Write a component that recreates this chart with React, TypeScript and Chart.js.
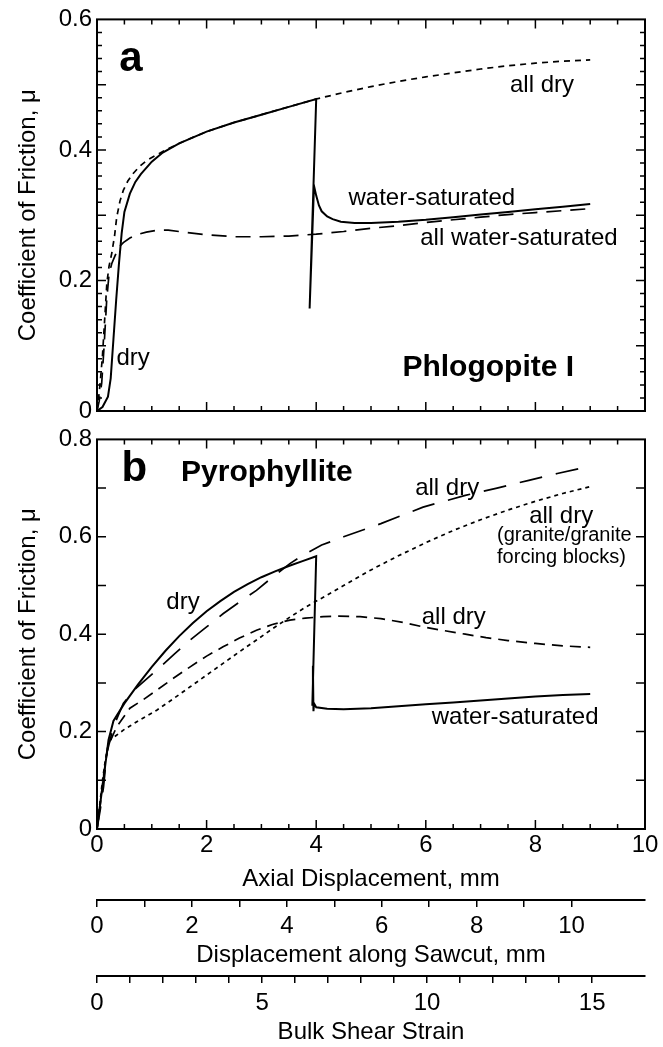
import React, { useEffect, useRef } from "react";
import { Chart, registerables } from "chart.js";
Chart.register(...registerables);

const FONT_FAMILY = "'Liberation Sans', Arial, Helvetica, sans-serif";

// ---------- axes ----------
const X_MIN = 0;
const X_MAX = 10;
const X_LABEL_STEP = 2;
const X_MINOR_STEP = 0.5;
const SAWCUT_MAX = 10 / Math.cos(Math.PI / 6); // displacement along sawcut at 10 mm axial
const STRAIN_MAX = 16.6; // bulk shear strain at 10 mm axial

// ---------- panel a : Phlogopite I ----------
const A_Y_MAX = 0.6;
// dry -> water-saturated (solid)
const A_SOLID_X = [0, 0.1, 0.2, 0.25, 0.3, 0.35, 0.4, 0.45, 0.5, 0.6, 0.7, 0.8, 1.0, 1.2, 1.5, 2.0, 2.5, 3.0, 3.5, 4.0, 3.88, 3.92, 3.96, 4.0, 4.05, 4.1, 4.2, 4.3, 4.45, 4.7, 5.0, 5.5, 6.0, 6.5, 7.0, 7.5, 8.0, 8.5, 9.0];
const A_SOLID_Y = [0, 0.006, 0.022, 0.05, 0.11, 0.17, 0.225, 0.272, 0.305, 0.333, 0.351, 0.363, 0.382, 0.396, 0.41, 0.428, 0.442, 0.454, 0.466, 0.478, 0.157, 0.25, 0.345, 0.33, 0.315, 0.306, 0.298, 0.294, 0.29, 0.288, 0.288, 0.29, 0.293, 0.297, 0.301, 0.305, 0.309, 0.313, 0.317];
// all dry (short dash)
const A_DRY_X = [0, 0.03, 0.06, 0.1, 0.14, 0.18, 0.22, 0.27, 0.32, 0.36, 0.42, 0.48, 0.56, 0.66, 0.78, 0.91, 1.1, 1.3, 1.6, 2.0, 2.5, 3.0, 3.5, 4.0, 4.5, 5.0, 5.5, 6.0, 6.5, 7.0, 7.5, 8.0, 8.5, 9.0];
const A_DRY_Y = [0, 0.02, 0.045, 0.085, 0.14, 0.196, 0.222, 0.242, 0.268, 0.297, 0.322, 0.338, 0.352, 0.364, 0.375, 0.384, 0.393, 0.402, 0.414, 0.428, 0.442, 0.454, 0.466, 0.478, 0.488, 0.497, 0.505, 0.512, 0.518, 0.524, 0.529, 0.533, 0.536, 0.538];
// all water-saturated (long dash)
const A_WET_X = [0, 0.04, 0.086, 0.13, 0.177, 0.22, 0.27, 0.33, 0.39, 0.48, 0.6, 0.72, 0.9, 1.1, 1.3, 1.6, 2.0, 2.5, 3.0, 3.5, 4.0, 4.5, 5.0, 5.5, 6.0, 6.5, 7.0, 7.5, 8.0, 8.5, 9.0];
const A_WET_Y = [0, 0.015, 0.043, 0.1, 0.17, 0.21, 0.226, 0.238, 0.25, 0.258, 0.265, 0.27, 0.274, 0.277, 0.277, 0.274, 0.27, 0.267, 0.267, 0.268, 0.271, 0.275, 0.28, 0.284, 0.289, 0.293, 0.297, 0.301, 0.304, 0.307, 0.31];

// ---------- panel b : Pyrophyllite ----------
const B_Y_MAX = 0.8;
// dry -> water-saturated (solid)
const B_SOLID_X = [0, 0.05, 0.115, 0.21, 0.3, 0.5, 0.75, 1.0, 1.25, 1.5, 1.75, 2.0, 2.25, 2.5, 2.75, 3.0, 3.25, 3.5, 3.75, 4.0, 3.93, 3.94, 3.95, 3.96, 4.0, 4.2, 4.5, 5.0, 5.5, 6.0, 6.5, 7.0, 7.5, 8.0, 8.5, 9.0];
const B_SOLID_Y = [0, 0.045, 0.1, 0.183, 0.222, 0.258, 0.297, 0.333, 0.366, 0.396, 0.423, 0.447, 0.468, 0.487, 0.503, 0.517, 0.529, 0.54, 0.55, 0.56, 0.255, 0.335, 0.242, 0.258, 0.25, 0.247, 0.246, 0.248, 0.252, 0.256, 0.26, 0.264, 0.268, 0.272, 0.275, 0.277];
// all dry (long dash, upper)
const B_DRY1_X = [0, 0.06, 0.12, 0.18, 0.3, 0.48, 0.7, 1.09, 1.4, 1.7, 2.0, 2.3, 2.6, 2.91, 3.2, 3.52, 3.8, 4.1, 4.5, 5.18, 5.95, 6.72, 7.3, 7.88, 8.4, 9.0];
const B_DRY1_Y = [0, 0.04, 0.087, 0.156, 0.21, 0.258, 0.288, 0.326, 0.358, 0.388, 0.415, 0.442, 0.466, 0.49, 0.517, 0.545, 0.565, 0.583, 0.6, 0.627, 0.661, 0.685, 0.7, 0.716, 0.73, 0.745];
// all dry (medium dash, peaks then falls)
const B_DRY2_X = [0, 0.06, 0.12, 0.2, 0.36, 0.6, 0.85, 1.09, 1.4, 1.7, 2.0, 2.3, 2.6, 2.91, 3.2, 3.52, 3.8, 4.13, 4.41, 4.8, 5.18, 5.6, 5.95, 6.3, 6.72, 7.1, 7.5, 8.0, 8.5, 9.0];
const B_DRY2_Y = [0, 0.05, 0.11, 0.17, 0.21, 0.248, 0.266, 0.285, 0.31, 0.333, 0.355, 0.374, 0.392, 0.408, 0.42, 0.429, 0.433, 0.436, 0.437, 0.436, 0.432, 0.424, 0.415, 0.408, 0.4, 0.393, 0.387, 0.381, 0.376, 0.373];
// all dry, granite/granite forcing blocks (dotted)
const B_DRY3_X = [0, 0.05, 0.1, 0.15, 0.2, 0.24, 0.35, 0.48, 0.75, 1.09, 1.4, 1.7, 2.0, 2.3, 2.6, 2.91, 3.2, 3.52, 3.8, 4.13, 4.5, 5.0, 5.5, 6.0, 6.5, 7.0, 7.5, 8.0, 8.5, 9.0];
const B_DRY3_Y = [0, 0.05, 0.1, 0.14, 0.17, 0.183, 0.192, 0.203, 0.222, 0.244, 0.268, 0.292, 0.316, 0.34, 0.364, 0.388, 0.411, 0.435, 0.455, 0.476, 0.5, 0.532, 0.561, 0.588, 0.613, 0.635, 0.655, 0.673, 0.689, 0.703];

type Ann = { text: string; x: number; y: number; size: number; bold?: boolean; align?: CanvasTextAlign };

const A_LABELS: Ann[] = [
  { text: "a", x: 0.62, y: 0.539, size: 42, bold: true },
  { text: "all dry", x: 8.12, y: 0.499, size: 24 },
  { text: "water-saturated", x: 6.11, y: 0.326, size: 24 },
  { text: "all water-saturated", x: 7.7, y: 0.265, size: 24 },
  { text: "dry", x: 0.66, y: 0.081, size: 24 },
  { text: "Phlogopite I", x: 7.14, y: 0.066, size: 30, bold: true },
];
const B_LABELS: Ann[] = [
  { text: "b", x: 0.68, y: 0.738, size: 42, bold: true },
  { text: "Pyrophyllite", x: 3.1, y: 0.732, size: 30, bold: true },
  { text: "all dry", x: 6.39, y: 0.7, size: 24 },
  { text: "all dry", x: 8.47, y: 0.642, size: 24 },
  { text: "(granite/granite", x: 7.3, y: 0.603, size: 20, align: "left" },
  { text: "forcing blocks)", x: 7.3, y: 0.558, size: 20, align: "left" },
  { text: "dry", x: 1.57, y: 0.466, size: 24 },
  { text: "all dry", x: 6.51, y: 0.435, size: 24 },
  { text: "water-saturated", x: 7.63, y: 0.23, size: 24 },
];

const pts = (xs: number[], ys: number[]) => xs.map((x, i) => ({ x, y: ys[i] }));
const isMult = (v: number, s: number) => Math.abs(v / s - Math.round(v / s)) < 1e-6;

function framePlugin(yMajor: number, yMinor: number, labels: Ann[]) {
  return {
    id: "frameAndLabels",
    afterDraw(chart: any) {
      const { ctx, chartArea: ca } = chart;
      const xs = chart.scales.x;
      const ys = chart.scales.y;
      ctx.save();
      ctx.strokeStyle = "#000";
      ctx.lineWidth = 1.5;
      ctx.beginPath();
      const nx = Math.round((X_MAX - X_MIN) / X_MINOR_STEP);
      for (let i = 1; i < nx; i++) {
        const v = X_MIN + i * X_MINOR_STEP;
        const p = xs.getPixelForValue(v);
        const L = isMult(v, X_LABEL_STEP) ? 9 : 5;
        ctx.moveTo(p, ca.bottom);
        ctx.lineTo(p, ca.bottom - L);
        ctx.moveTo(p, ca.top);
        ctx.lineTo(p, ca.top + L);
      }
      const ny = Math.round((ys.max - ys.min) / yMinor);
      for (let i = 1; i < ny; i++) {
        const v = ys.min + i * yMinor;
        const p = ys.getPixelForValue(v);
        const L = isMult(v, yMajor) ? 9 : 5;
        ctx.moveTo(ca.left, p);
        ctx.lineTo(ca.left + L, p);
        ctx.moveTo(ca.right, p);
        ctx.lineTo(ca.right - L, p);
      }
      ctx.stroke();
      ctx.lineWidth = 2;
      ctx.strokeRect(ca.left, ca.top, ca.right - ca.left, ca.bottom - ca.top);
      ctx.fillStyle = "#000";
      for (const a of labels) {
        ctx.font = `${a.bold ? "bold " : ""}${a.size}px ${FONT_FAMILY}`;
        ctx.textAlign = a.align || "center";
        ctx.textBaseline = "middle";
        ctx.fillText(a.text, xs.getPixelForValue(a.x), ys.getPixelForValue(a.y));
      }
      ctx.restore();
    },
  };
}

const line = (data: { x: number; y: number }[], dash: number[], width: number) => ({
  data,
  borderColor: "#000",
  borderWidth: width,
  borderDash: dash,
  pointRadius: 0,
  tension: 0,
  fill: false,
});

const tickFont = { family: FONT_FAMILY, size: 24 };
const titleFont = { family: FONT_FAMILY, size: 24 };
const yFmt = (v: any) => (Number(v) === 0 ? "0" : Number(v).toFixed(1));

function yScale(max: number) {
  return {
    type: "linear",
    min: 0,
    max,
    afterFit: (s: any) => {
      s.width = 97;
    },
    grid: { display: false, drawTicks: false },
    border: { display: false },
    ticks: { stepSize: 0.2, padding: 5, font: tickFont, color: "#000", callback: yFmt },
    title: { display: true, text: "Coefficient of Friction, μ", font: titleFont, color: "#000", padding: { top: 14, bottom: 0 } },
  };
}

export default function App() {
  const refA = useRef<HTMLCanvasElement>(null);
  const refB = useRef<HTMLCanvasElement>(null);

  useEffect(() => {
    Chart.defaults.font.family = FONT_FAMILY;
    Chart.defaults.color = "#000";

    const chartA = new Chart(refA.current as HTMLCanvasElement, {
      type: "line",
      data: {
        datasets: [
          line(pts(A_SOLID_X, A_SOLID_Y), [], 2),
          line(pts(A_DRY_X, A_DRY_Y), [6, 5], 1.7),
          line(pts(A_WET_X, A_WET_Y), [15, 9], 1.7),
        ],
      },
      options: {
        animation: false,
        responsive: false,
        layout: { padding: { left: 0, right: 18, top: 19, bottom: 29 } },
        plugins: { legend: { display: false }, tooltip: { enabled: false } },
        scales: {
          x: { type: "linear", min: X_MIN, max: X_MAX, display: false },
          y: yScale(A_Y_MAX) as any,
        },
      },
      plugins: [framePlugin(0.1, 0.02, A_LABELS)],
    } as any);

    const chartB = new Chart(refB.current as HTMLCanvasElement, {
      type: "line",
      data: {
        datasets: [
          line(pts(B_SOLID_X, B_SOLID_Y), [], 2),
          line(pts(B_DRY1_X, B_DRY1_Y), [23, 14], 1.7),
          line(pts(B_DRY2_X, B_DRY2_Y), [11, 7], 1.7),
          line(pts(B_DRY3_X, B_DRY3_Y), [4, 4], 1.7),
        ],
      },
      options: {
        animation: false,
        responsive: false,
        layout: { padding: { left: 0, right: 18, top: 19, bottom: 0 } },
        plugins: { legend: { display: false }, tooltip: { enabled: false } },
        scales: {
          x: {
            type: "linear",
            position: "bottom",
            weight: 0,
            min: X_MIN,
            max: X_MAX,
            afterFit: (s: any) => {
              s.height = 71;
            },
            grid: { display: false, drawTicks: false },
            border: { display: false },
            ticks: { stepSize: X_LABEL_STEP, padding: 2, maxRotation: 0, autoSkip: false, font: tickFont, color: "#000" },
            title: { display: true, text: "Axial Displacement, mm", font: titleFont, color: "#000", padding: { top: 0, bottom: 6 } },
          },
          x2: {
            type: "linear",
            position: "bottom",
            weight: 1,
            min: 0,
            max: SAWCUT_MAX,
            afterFit: (s: any) => {
              s.height = 76;
            },
            afterBuildTicks: (s: any) => {
              s.ticks = s.ticks.filter((t: any) => isMult(t.value, 1));
            },
            grid: { display: true, drawOnChartArea: false, drawTicks: true, tickLength: 7, color: "#000", lineWidth: 1.5 },
            border: { display: true, color: "#000", width: 2 },
            ticks: {
              stepSize: 1,
              padding: 5,
              maxRotation: 0,
              autoSkip: false,
              font: tickFont,
              color: "#000",
              callback: (v: any) => (isMult(Number(v), 2) ? String(Math.round(Number(v))) : ""),
            },
            title: { display: true, text: "Displacement along Sawcut, mm", font: titleFont, color: "#000", padding: { top: 0, bottom: 6 } },
          },
          x3: {
            type: "linear",
            position: "bottom",
            weight: 2,
            min: 0,
            max: STRAIN_MAX,
            afterFit: (s: any) => {
              s.height = 71;
            },
            afterBuildTicks: (s: any) => {
              s.ticks = s.ticks.filter((t: any) => isMult(t.value, 1));
            },
            grid: { display: true, drawOnChartArea: false, drawTicks: true, tickLength: 7, color: "#000", lineWidth: 1.5 },
            border: { display: true, color: "#000", width: 2 },
            ticks: {
              stepSize: 1,
              padding: 6,
              maxRotation: 0,
              autoSkip: false,
              font: tickFont,
              color: "#000",
              callback: (v: any) => (isMult(Number(v), 5) ? String(Math.round(Number(v))) : ""),
            },
            title: { display: true, text: "Bulk Shear Strain", font: titleFont, color: "#000", padding: { top: 0, bottom: 0 } },
          },
          y: yScale(B_Y_MAX) as any,
        },
      },
      plugins: [framePlugin(0.1, 0.1, B_LABELS)],
    } as any);

    return () => {
      chartA.destroy();
      chartB.destroy();
    };
  }, []);

  return (
    <div style={{ position: "absolute", left: 0, top: 0, width: 663, height: 1047, background: "#fff" }}>
      <canvas ref={refA} width={663} height={440} style={{ position: "absolute", left: 0, top: 0 }} />
      <canvas ref={refB} width={663} height={627} style={{ position: "absolute", left: 0, top: 420 }} />
    </div>
  );
}
